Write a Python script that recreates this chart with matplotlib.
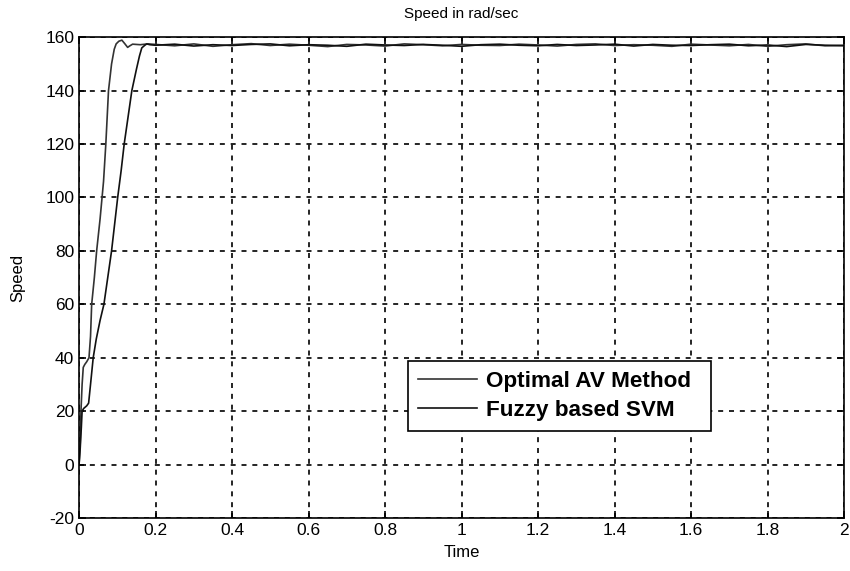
import numpy as np
import matplotlib.pyplot as plt

plt.rcParams['font.family'] = ['Liberation Sans', 'DejaVu Sans']
plt.rcParams['axes.unicode_minus'] = False

# start-up part of each speed curve (time in s, speed in rad/s)
t_av = [0, 0.003, 0.005, 0.008, 0.011, 0.015, 0.02, 0.026, 0.03, 0.033, 0.04, 0.046,
        0.055, 0.064, 0.07, 0.077, 0.085, 0.092, 0.097, 0.104, 0.112, 0.12, 0.127,
        0.133, 0.14, 0.16, 0.18]
w_av = [0, 8, 20, 30, 36.4, 37.5, 38.5, 40, 48, 60, 70, 80, 92, 106, 120, 140, 150,
        155.5, 157.5, 158.5, 158.9, 157.5, 156.2, 156.8, 157.4, 157.2, 157.5]

t_svm = [0, 0.003, 0.006, 0.008, 0.012, 0.02, 0.025, 0.03, 0.037, 0.045, 0.055, 0.065,
         0.075, 0.085, 0.093, 0.101, 0.11, 0.118, 0.128, 0.138, 0.15, 0.158, 0.164,
         0.172, 0.177, 0.185]
w_svm = [0, 6, 14, 20, 21, 22, 23, 30, 40, 47, 54, 60, 70, 80, 90, 100, 110, 120,
         130, 140, 148, 153, 156, 157, 157.5, 157.2]

# steady state ripple, sampled every 0.05 s from 0.2 s to 2.0 s
t_ss = np.arange(0.2, 2.0001, 0.05)
w_ss_av = [157.3, 156.8, 157.5, 156.6, 157.2, 157.6, 156.9, 157.4, 157.0, 156.5,
           157.3, 157.1, 156.7, 157.5, 157.2, 156.8, 157.3, 157.0, 156.9, 157.4,
           157.1, 156.7, 157.3, 157.5, 156.9, 157.2, 157.0, 156.6, 157.4, 157.1,
           156.8, 157.3, 156.6, 157.2, 157.5, 156.8, 157.0]
w_ss_svm = [157.0, 157.4, 156.7, 157.2, 156.9, 157.3, 157.5, 156.8, 157.2, 157.0,
            156.6, 157.4, 157.1, 156.9, 157.3, 157.0, 156.6, 157.2, 157.4, 157.0,
            156.8, 157.3, 156.9, 157.1, 157.4, 156.7, 157.3, 157.0, 156.9, 157.2,
            157.4, 156.8, 157.1, 156.5, 157.3, 157.0, 156.8]

labels = ['Optimal AV Method', 'Fuzzy based SVM']

fig = plt.figure(figsize=(8.5, 5.71), dpi=100)
ax = fig.add_axes([0.093, 0.0928, 0.9, 0.842])

ax.plot(list(t_av) + list(t_ss), list(w_av) + w_ss_av, color='#333333', lw=1.2, label=labels[0])
ax.plot(list(t_svm) + list(t_ss), list(w_svm) + w_ss_svm, color='#111111', lw=1.2, label=labels[1])

ax.set_xlim(0, 2)
ax.set_ylim(-20, 160)
ax.set_xticks(np.arange(0, 2.01, 0.2))
ax.set_xticklabels(['0', '0.2', '0.4', '0.6', '0.8', '1', '1.2', '1.4', '1.6', '1.8', '2'])
ax.set_yticks(np.arange(-20, 161, 20))
ax.tick_params(direction='in', top=True, right=True, length=5, width=1.2, labelsize=12.5)
ax.grid(True, color='k', linestyle=(0, (3, 3.5)), linewidth=1.2)
for s in ax.spines.values():
    s.set_linewidth(1.2)

ax.set_xlabel('Time', fontsize=12, labelpad=5)
ax.set_ylabel('Speed', fontsize=12, labelpad=14)
ax.set_title('Speed in rad/sec', fontsize=11, pad=14)

leg = ax.legend(loc='lower left', bbox_to_anchor=(0.43, 0.181, 0.396, 0.148), mode='expand',
                fancybox=False, framealpha=1, edgecolor='k', handlelength=2.6,
                handletextpad=0.4, borderaxespad=0, labelspacing=0.35, borderpad=0.45,
                prop={'family': 'Liberation Sans', 'weight': 'bold', 'stretch': 'normal',
                      'size': 16.2})
leg.get_frame().set_linewidth(1.2)

fig.savefig('out.png', dpi=100)
